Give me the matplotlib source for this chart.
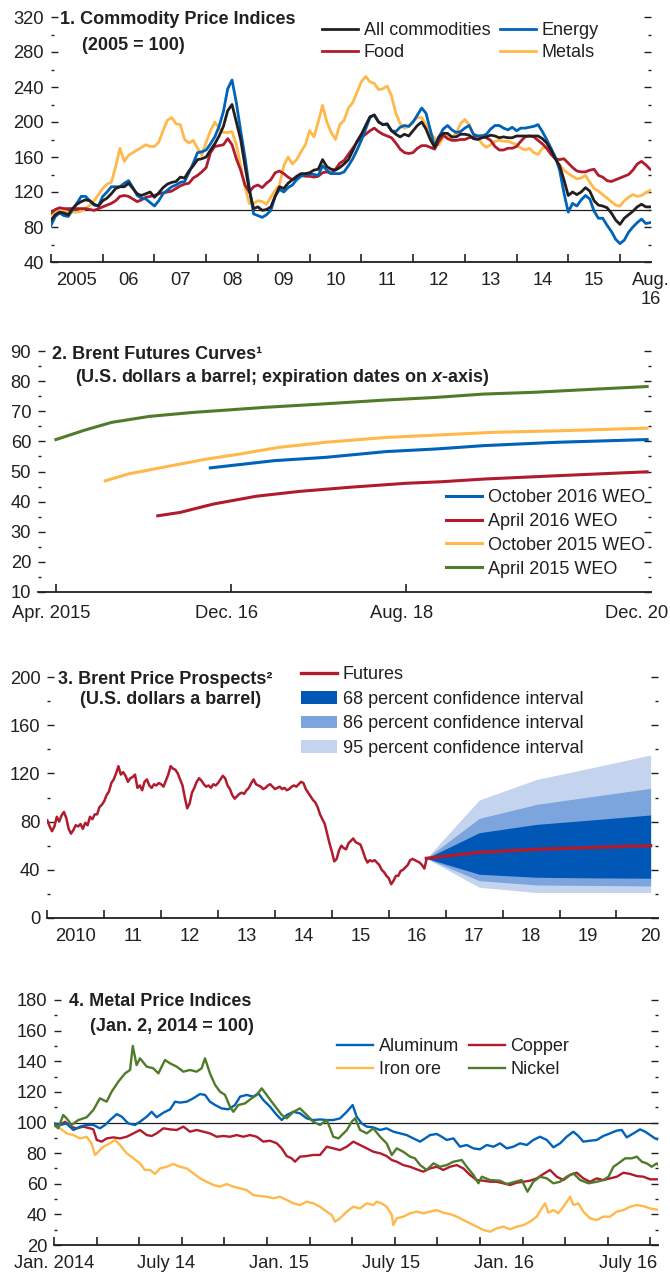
import matplotlib
matplotlib.use('Agg')
import matplotlib.pyplot as plt
import numpy as np

plt.rcParams['font.family'] = ['Liberation Sans', 'DejaVu Sans']
plt.rcParams['mathtext.fontset'] = 'custom'
plt.rcParams['mathtext.rm'] = 'Liberation Sans'
plt.rcParams['mathtext.it'] = 'Liberation Sans:bold:italic'
plt.rcParams['mathtext.bf'] = 'Liberation Sans:bold'

W, H = 670, 1275
fs = 13.2
fs_leg = 13.0
fs_title = 13.0
INK = '#231f20'
BLACK = '#231f20'
BLUE = '#0062b8'
RED = '#b01c2e'
GOLD = '#ffb84a'
GREEN = '#4f7b2a'
FAN68 = '#0057b5'
FAN86 = '#7ba5dc'
FAN95 = '#c4d4ef'

# ---------------- panel 1: monthly, Jan 2005 - Aug 2016 ----------------
all_commod = [
    88, 94, 97, 96, 94, 101, 106, 109, 111, 110, 106, 104,
    110, 113, 118, 124, 126, 126, 130, 124, 118, 116, 118, 120,
    114, 119, 125, 129, 131, 132, 137, 136, 144, 150, 157, 158,
    160, 168, 175, 184, 195, 213, 220, 200, 180, 150, 122, 101,
    103, 99, 100, 103, 115, 126, 124, 130, 134, 138, 141, 141,
    142, 145, 146, 157, 149, 146, 145, 148, 152, 157, 167, 178,
    186, 196, 206, 208, 200, 197, 198, 190, 186, 183, 186, 184,
    190, 196, 200, 192, 180, 171, 183, 187, 187, 183, 183, 186,
    186, 185, 181, 180, 182, 183, 185, 184, 182, 183, 182, 182,
    184, 184, 184, 184, 184, 184, 181, 176, 168, 158, 150, 134,
    116, 120, 117, 120, 125, 121, 110, 105, 104, 102, 96, 88,
    83, 90, 94, 98, 103, 106, 103, 103]
energy = [
    82, 92, 96, 93, 92, 100, 107, 115, 115, 110, 105, 104,
    115, 120, 126, 126, 126, 130, 133, 125, 116, 113, 112, 108,
    104, 110, 118, 122, 126, 128, 131, 132, 142, 153, 165, 166,
    168, 175, 183, 195, 212, 238, 248, 222, 190, 160, 125, 95,
    93, 91, 94, 99, 115, 123, 120, 125, 128, 134, 138, 140,
    141, 140, 139, 150, 145, 141, 141, 141, 143, 150, 158, 168,
    179, 192, 205, 208, 200, 197, 197, 190, 189, 194, 196, 195,
    200, 208, 216, 210, 191, 172, 183, 192, 196, 191, 188, 189,
    193, 196, 186, 184, 184, 186, 192, 196, 196, 193, 191, 194,
    190, 193, 193, 194, 195, 197, 189, 180, 170, 160, 145, 119,
    97, 107, 104, 111, 116, 112, 98, 90, 90, 82, 75, 66,
    61, 65, 74, 80, 85, 89, 84, 85]
food = [
    96, 100, 102, 101, 101, 101, 101, 101, 101, 100, 99, 101,
    103, 105, 107, 110, 115, 116, 115, 112, 109, 111, 114, 115,
    116, 118, 119, 120, 121, 124, 127, 129, 130, 136, 139, 143,
    148, 165, 172, 173, 174, 181, 174, 158, 145, 128, 120, 126,
    128, 125, 130, 134, 142, 144, 141, 137, 134, 135, 139, 138,
    138, 137, 138, 142, 143, 141, 146, 153, 156, 163, 170, 177,
    182, 186, 190, 193, 189, 186, 184, 182, 176, 169, 165, 164,
    165, 170, 173, 173, 171, 169, 178, 185, 181, 179, 179, 180,
    180, 182, 183, 184, 184, 182, 179, 172, 168, 168, 170, 170,
    172, 178, 183, 184, 183, 179, 175, 170, 163, 158, 157, 158,
    153, 148, 144, 143, 143, 145, 146, 139, 137, 133, 132, 134,
    136, 138, 140, 145, 152, 155, 151, 146]
metals = [
    94, 97, 99, 98, 97, 97, 97, 98, 101, 105, 110, 117,
    124, 129, 131, 149, 170, 155, 162, 165, 168, 171, 174, 172,
    172, 177, 190, 202, 205, 198, 197, 180, 176, 179, 170, 162,
    177, 190, 200, 193, 188, 188, 189, 174, 150, 126, 107, 107,
    110, 109, 106, 114, 122, 128, 150, 160, 152, 157, 166, 174,
    190, 183, 200, 219, 200, 188, 180, 197, 202, 216, 222, 234,
    246, 252, 246, 244, 237, 238, 241, 230, 210, 198, 193, 195,
    201, 205, 205, 197, 186, 182, 174, 183, 184, 182, 187, 198,
    203, 197, 186, 183, 175, 171, 174, 178, 179, 178, 178, 176,
    174, 170, 168, 170, 165, 163, 170, 171, 165, 158, 151, 145,
    141, 138, 135, 136, 139, 131, 124, 121, 117, 113, 109, 105,
    104, 110, 114, 117, 115, 116, 119, 122]
p1_year_labels = ['2005', '06', '07', '08', '09', '10', '11', '12', '13', '14', '15']

# ---------------- panel 2: futures curves (decimal years) ----------------
apr15_t = [2015.25, 2015.53, 2015.78, 2016.14, 2016.55, 2016.92, 2017.24, 2017.78,
           2018.38, 2018.87, 2019.32, 2019.81, 2020.42, 2020.88]
apr15_v = [60.6, 63.8, 66.3, 68.3, 69.6, 70.5, 71.3, 72.4, 73.7, 74.6, 75.7, 76.3, 77.4, 78.2]
oct15_t = [2015.72, 2015.94, 2016.27, 2016.68, 2017.0, 2017.37, 2017.82, 2018.39,
           2018.88, 2019.41, 2020.02, 2020.88]
oct15_v = [46.9, 49.2, 51.4, 54.1, 55.8, 58.0, 59.7, 61.3, 62.1, 63.0, 63.5, 64.4]
apr16_t = [2016.22, 2016.43, 2016.75, 2017.16, 2017.57, 2018.06, 2018.59, 2018.92,
           2019.33, 2020.02, 2020.88]
apr16_v = [35.3, 36.4, 39.2, 41.8, 43.4, 44.8, 46.1, 46.6, 47.5, 48.6, 49.9]
oct16_t = [2016.72, 2017.0, 2017.33, 2017.82, 2018.39, 2018.88, 2019.33, 2020.02, 2020.88]
oct16_v = [51.2, 52.3, 53.6, 54.7, 56.6, 57.5, 58.6, 59.7, 60.6]

# ---------------- panel 3: Brent, half-monthly from Jan 2010 ----------------
brent = [
    81, 76, 72, 76, 84, 80, 85, 88, 83, 74, 70, 73, 77, 76, 78, 74, 79, 77, 84, 82, 86, 86, 92, 94,
    97, 102, 105, 112, 115, 120, 126, 119, 121, 118, 113, 116, 117, 119, 108, 110, 106, 113, 115, 110, 108, 111, 110, 112,
    111, 109, 114, 119, 126, 124, 123, 120, 115, 110, 100, 91, 95, 104, 108, 113, 116, 114, 111, 109, 110, 108, 111, 110,
    112, 115, 118, 116, 110, 107, 102, 99, 101, 103, 104, 103, 106, 108, 112, 115, 111, 110, 109, 107, 108, 110, 111, 109,
    107, 108, 109, 107, 108, 106, 107, 109, 110, 109, 111, 113, 112, 107, 104, 101, 98, 96, 92, 86, 82, 78, 70, 62,
    55, 47, 49, 56, 60, 58, 57, 62, 64, 66, 63, 62, 61, 56, 50, 46, 48, 47, 48, 46, 44, 40, 38, 35,
    33, 28, 31, 35, 35, 39, 40, 42, 44, 48, 49, 48, 47, 46, 44, 41, 49.5]
fan_t = [2016.66, 2017.59, 2018.6, 2019.6, 2020.6]
futures = [49.5, 54.5, 57.0, 58.6, 60.0]
lo68 = [49.5, 36.3, 33.8, 33.3, 33.0]
hi68 = [49.5, 70.8, 77.7, 81.5, 85.5]
lo86 = [49.5, 31.0, 27.4, 27.0, 26.6]
hi86 = [49.5, 82.7, 94.3, 101.0, 107.6]
lo95 = [49.5, 25.5, 21.1, 21.1, 21.1]
hi95 = [49.5, 98.0, 115.0, 125.0, 135.3]
p3_year_labels = ['2010', '11', '12', '13', '14', '15', '16', '17', '18', '19']

# ---------------- panel 4: metal indices (decimal years) ----------------
nickel_t = [2014.000, 2014.019, 2014.041, 2014.056, 2014.078, 2014.108, 2014.145, 2014.175,
            2014.204, 2014.234, 2014.256, 2014.286, 2014.316, 2014.338, 2014.350, 2014.367,
            2014.382, 2014.412, 2014.441, 2014.464, 2014.493, 2014.516, 2014.545, 2014.575,
            2014.604, 2014.634, 2014.656, 2014.671, 2014.693, 2014.716, 2014.738, 2014.760,
            2014.782, 2014.797, 2014.819, 2014.849, 2014.878, 2014.901, 2014.923, 2014.945,
            2014.967, 2014.990, 2015.012, 2015.034, 2015.064, 2015.093, 2015.123, 2015.152,
            2015.182, 2015.212, 2015.227, 2015.241, 2015.264, 2015.301, 2015.323, 2015.338,
            2015.360, 2015.390, 2015.419, 2015.449, 2015.478, 2015.501, 2015.523, 2015.552,
            2015.582, 2015.604, 2015.627, 2015.656, 2015.686, 2015.715, 2015.745, 2015.775,
            2015.812, 2015.834, 2015.864, 2015.886, 2015.901, 2015.938, 2015.982, 2016.012,
            2016.049, 2016.078, 2016.104, 2016.130, 2016.160, 2016.190, 2016.219, 2016.249,
            2016.278, 2016.308, 2016.338, 2016.375, 2016.412, 2016.441, 2016.464, 2016.486,
            2016.508, 2016.538, 2016.567, 2016.590, 2016.612, 2016.634, 2016.656, 2016.678,
            2016.690]
nickel_v = [98.4, 96.2, 104.9, 102.7, 98.4, 101.6, 103.4, 108.2,
            115.8, 113.6, 120.1, 126.7, 132.1, 134.3, 150.0, 137.5,
            141.9, 136.5, 135.4, 132.1, 140.8, 138.6, 136.5, 133.2,
            134.3, 133.2, 135.4, 141.9, 132.1, 124.5, 120.1, 118.0,
            110.3, 107.0, 111.4, 112.5, 115.8, 118.0, 122.3, 118.0,
            113.6, 109.2, 104.9, 102.7, 107.0, 109.2, 104.9, 100.5,
            98.4, 101.6, 96.2, 90.7, 89.6, 95.0, 100.5, 102.7,
            95.1, 92.9, 96.2, 90.7, 86.4, 78.8, 83.1, 80.9,
            77.7, 76.6, 72.2, 69.0, 73.3, 71.1, 72.2, 74.4,
            75.5, 71.1, 65.7, 60.3, 64.6, 62.4, 62.0, 59.8,
            61.3, 62.4, 54.8, 61.3, 64.6, 63.5, 60.3, 61.3,
            64.6, 66.8, 62.4, 60.3, 61.3, 62.4, 64.6, 71.1,
            73.3, 76.6, 76.6, 77.7, 74.4, 73.3, 71.1, 73.3,
            71.6]
alum_t = [2014.000, 2014.027, 2014.056, 2014.086, 2014.116, 2014.145, 2014.175, 2014.204,
          2014.227, 2014.249, 2014.279, 2014.301, 2014.330, 2014.360, 2014.382, 2014.412,
          2014.434, 2014.456, 2014.486, 2014.516, 2014.538, 2014.560, 2014.590, 2014.619,
          2014.649, 2014.671, 2014.693, 2014.716, 2014.745, 2014.775, 2014.804, 2014.827,
          2014.856, 2014.886, 2014.908, 2014.930, 2014.960, 2014.990, 2015.012, 2015.034,
          2015.064, 2015.093, 2015.123, 2015.152, 2015.182, 2015.212, 2015.241, 2015.271,
          2015.301, 2015.327, 2015.345, 2015.367, 2015.390, 2015.419, 2015.449, 2015.478,
          2015.508, 2015.538, 2015.567, 2015.597, 2015.627, 2015.649, 2015.671, 2015.701,
          2015.723, 2015.745, 2015.775, 2015.804, 2015.834, 2015.864, 2015.893, 2015.923,
          2015.953, 2015.982, 2016.012, 2016.041, 2016.071, 2016.101, 2016.130, 2016.160,
          2016.190, 2016.219, 2016.249, 2016.278, 2016.308, 2016.330, 2016.352, 2016.382,
          2016.412, 2016.441, 2016.471, 2016.501, 2016.523, 2016.545, 2016.575, 2016.604,
          2016.627, 2016.649, 2016.671, 2016.690]
alum_v = [99.4, 98.4, 99.4, 95.1, 97.3, 98.4, 98.4, 96.2,
          98.4, 101.6, 105.5, 103.8, 99.4, 98.4, 100.5, 103.8,
          107.0, 103.4, 106.4, 108.6, 113.6, 113.0, 113.6, 115.8,
          118.6, 118.0, 113.6, 111.4, 109.2, 108.6, 111.4, 116.9,
          118.0, 116.9, 119.1, 114.7, 110.3, 104.9, 101.6, 104.9,
          107.0, 106.0, 102.7, 101.6, 102.0, 101.6, 101.6, 102.7,
          107.0, 111.4, 103.8, 99.4, 97.3, 96.8, 95.1, 96.2,
          94.0, 92.9, 91.8, 89.6, 87.5, 89.6, 91.8, 92.5,
          90.7, 88.6, 89.6, 84.2, 85.3, 83.1, 82.5, 85.3,
          84.2, 86.4, 83.1, 84.2, 86.4, 85.3, 88.6, 90.7,
          88.6, 83.8, 86.4, 90.7, 94.0, 91.2, 87.5, 88.1,
          88.6, 91.2, 92.9, 94.7, 95.1, 90.3, 92.9, 95.5,
          94.0, 91.8, 89.6, 88.6]
copper_t = [2014.000, 2014.027, 2014.049, 2014.071, 2014.101, 2014.130, 2014.160, 2014.175,
            2014.190, 2014.212, 2014.234, 2014.264, 2014.293, 2014.323, 2014.353, 2014.382,
            2014.412, 2014.434, 2014.456, 2014.486, 2014.516, 2014.545, 2014.575, 2014.604,
            2014.634, 2014.664, 2014.693, 2014.723, 2014.753, 2014.782, 2014.812, 2014.841,
            2014.871, 2014.901, 2014.930, 2014.960, 2014.990, 2015.012, 2015.034, 2015.056,
            2015.071, 2015.093, 2015.123, 2015.152, 2015.182, 2015.212, 2015.241, 2015.271,
            2015.301, 2015.330, 2015.360, 2015.390, 2015.419, 2015.449, 2015.478, 2015.501,
            2015.523, 2015.552, 2015.582, 2015.612, 2015.641, 2015.671, 2015.701, 2015.730,
            2015.760, 2015.790, 2015.819, 2015.849, 2015.878, 2015.908, 2015.938, 2015.967,
            2015.997, 2016.027, 2016.056, 2016.086, 2016.115, 2016.145, 2016.175, 2016.204,
            2016.234, 2016.264, 2016.293, 2016.323, 2016.352, 2016.382, 2016.412, 2016.441,
            2016.471, 2016.501, 2016.530, 2016.560, 2016.590, 2016.619, 2016.649, 2016.690]
copper_v = [99.0, 98.4, 100.5, 97.3, 96.2, 97.3, 96.2, 95.5,
            88.6, 87.5, 89.6, 90.3, 89.6, 90.7, 92.9, 95.1,
            91.8, 91.2, 92.9, 96.2, 95.5, 95.1, 97.3, 94.0,
            95.1, 94.0, 92.9, 90.7, 91.2, 90.7, 91.8, 90.7,
            91.8, 90.7, 87.5, 88.1, 86.4, 83.1, 78.1, 76.6,
            74.4, 77.7, 78.1, 78.8, 78.8, 84.2, 83.1, 82.0,
            84.2, 87.5, 85.3, 83.1, 80.9, 79.9, 78.1, 75.5,
            74.4, 72.2, 71.1, 69.4, 67.9, 70.0, 71.1, 69.0,
            71.1, 72.2, 70.0, 65.7, 62.4, 62.0, 61.3, 61.3,
            60.3, 59.2, 60.7, 61.3, 62.0, 63.5, 66.4, 69.0,
            64.6, 62.4, 65.7, 67.2, 63.5, 61.3, 63.5, 62.4,
            63.5, 64.6, 67.2, 66.4, 65.0, 64.6, 62.9, 62.9]
iron_t = [2014.000, 2014.027, 2014.056, 2014.086, 2014.116, 2014.145, 2014.167, 2014.182,
          2014.197, 2014.219, 2014.249, 2014.271, 2014.293, 2014.323, 2014.353, 2014.382,
          2014.404, 2014.427, 2014.449, 2014.471, 2014.501, 2014.530, 2014.560, 2014.590,
          2014.619, 2014.649, 2014.678, 2014.708, 2014.738, 2014.767, 2014.797, 2014.827,
          2014.856, 2014.886, 2014.916, 2014.945, 2014.975, 2015.004, 2015.034, 2015.064,
          2015.093, 2015.123, 2015.152, 2015.182, 2015.212, 2015.234, 2015.249, 2015.271,
          2015.301, 2015.330, 2015.360, 2015.390, 2015.419, 2015.434, 2015.456, 2015.478,
          2015.501, 2015.508, 2015.523, 2015.552, 2015.582, 2015.612, 2015.641, 2015.671,
          2015.701, 2015.730, 2015.760, 2015.790, 2015.819, 2015.849, 2015.878, 2015.908,
          2015.938, 2015.967, 2015.997, 2016.027, 2016.056, 2016.086, 2016.115, 2016.145,
          2016.167, 2016.182, 2016.197, 2016.219, 2016.241, 2016.264, 2016.293, 2016.308,
          2016.330, 2016.352, 2016.382, 2016.412, 2016.441, 2016.471, 2016.501, 2016.530,
          2016.560, 2016.590, 2016.619, 2016.649, 2016.690]
iron_v = [99.4, 96.2, 92.9, 91.8, 89.6, 90.7, 86.4, 78.8,
          80.9, 84.2, 86.4, 88.6, 85.3, 79.9, 76.6, 73.3,
          69.0, 69.0, 66.4, 70.0, 71.1, 72.9, 71.1, 70.0,
          66.8, 63.5, 61.3, 59.2, 58.1, 59.8, 58.1, 57.0,
          55.9, 52.6, 52.0, 51.5, 50.5, 51.5, 49.4, 47.2,
          46.1, 48.3, 47.2, 45.0, 41.8, 39.6, 35.2, 37.4,
          41.8, 45.0, 43.9, 47.2, 46.1, 48.3, 47.2, 45.0,
          39.6, 33.0, 37.4, 38.5, 40.7, 41.8, 40.7, 41.8,
          42.8, 41.1, 40.2, 38.5, 36.3, 34.1, 32.0, 29.8,
          28.7, 30.9, 32.0, 30.2, 32.0, 33.0, 35.2, 38.5,
          43.9, 47.2, 41.1, 42.8, 40.7, 45.0, 51.5, 46.1,
          47.2, 41.8, 37.4, 36.3, 38.5, 38.5, 41.8, 42.8,
          45.0, 46.1, 45.4, 43.9, 42.8]
p4_label_pos = [2014.0, 2014.5, 2015.0, 2015.5, 2016.0, 2016.55]
p4_labels = ['Jan. 2014', 'July 14', 'Jan. 15', 'July 15', 'Jan. 16', 'July 16']


fig = plt.figure(figsize=(W / 100, H / 100), dpi=100)


def px_axes(x0, x1, y_top, y_bot):
    return fig.add_axes([x0 / W, 1 - y_bot / H, (x1 - x0) / W, (y_bot - y_top) / H])


def style(ax, ymaj, ymin, xpad=7):
    for s in ('left', 'right', 'top'):
        ax.spines[s].set_visible(False)
    ax.spines['bottom'].set_linewidth(1.3)
    ax.spines['bottom'].set_color(INK)
    ax.yaxis.set_ticks_position('both')
    ax.xaxis.set_ticks_position('bottom')
    ax.xaxis.remove_overlapping_locs = False
    ax.set_yticks(ymaj)
    ax.set_yticks(ymin, minor=True)
    ax.tick_params(axis='y', which='major', direction='in', length=5, width=1,
                   pad=5, labelsize=fs, colors=INK, labelright=False)
    ax.tick_params(axis='y', which='minor', direction='in', length=2.5, width=1, colors=INK)
    ax.tick_params(axis='x', which='major', direction='in', length=6, width=1.2,
                   colors=INK, labelbottom=False)
    ax.tick_params(axis='x', which='minor', length=0, pad=xpad, labelsize=fs, colors=INK)
    ax.patch.set_alpha(0)


def xlabels(ax, pos, labels):
    ax.set_xticks(pos, minor=True)
    ax.set_xticklabels(labels, minor=True)


def title(x, y, s, y2=None, x2=None, s2=None):
    fig.text(x / W, 1 - y / H, s, fontsize=fs_title, fontweight='bold', color=INK, va='baseline')
    if s2:
        fig.text(x2 / W, 1 - y2 / H, s2, fontsize=fs_title, fontweight='bold', color=INK,
                 va='baseline')


def legend(ax, handles, labels, x, y, ncol=1, spacing=0.2):
    ax.legend(handles, labels, loc='upper left', bbox_to_anchor=(x / W, 1 - y / H),
              bbox_transform=fig.transFigure, frameon=False, ncol=ncol, borderpad=0,
              borderaxespad=0, handlelength=2.0, handletextpad=0.3, columnspacing=0.55,
              labelspacing=spacing, fontsize=fs_leg, labelcolor=INK)


# ---- Panel 1
ax1 = px_axes(51, 651, 17, 262)
t1 = 2005 + np.arange(len(all_commod)) / 12
ax1.axhline(100, color=BLACK, lw=0.9, zorder=1)
l_met, = ax1.plot(t1, metals, color=GOLD, lw=2)
l_food, = ax1.plot(t1, food, color=RED, lw=2)
l_en, = ax1.plot(t1, energy, color=BLUE, lw=2)
l_all, = ax1.plot(t1, all_commod, color=BLACK, lw=2)
ax1.set_xlim(2005, 2016.6)
ax1.set_ylim(40, 320)
style(ax1, np.arange(40, 321, 40), np.arange(60, 320, 40))
ax1.set_xticks(np.arange(2005, 2017))
xlabels(ax1, list(np.arange(2005.5, 2016, 1.0)) + [2016.6], p1_year_labels + ['Aug.\n16'])
for lab in ax1.get_xticklabels(minor=True):
    lab.set_multialignment('center')
title(60, 23.5, '1. Commodity Price Indices', 49.5, 82, '(2005 = 100)')
legend(ax1, [l_all, l_food, l_en, l_met], ['All commodities', 'Food', 'Energy', 'Metals'],
       322, 22, ncol=2, spacing=0.3)

# ---- Panel 2
ax2 = px_axes(38, 651, 351, 592)
l_o16, = ax2.plot(oct16_t, oct16_v, color=BLUE, lw=2.2)
l_a16, = ax2.plot(apr16_t, apr16_v, color=RED, lw=2.2)
l_o15, = ax2.plot(oct15_t, oct15_v, color=GOLD, lw=2.2)
l_a15, = ax2.plot(apr15_t, apr15_v, color=GREEN, lw=2.2)
ax2.set_xlim(2015.079, 2020.917)
ax2.set_ylim(10, 90)
style(ax2, np.arange(10, 91, 10), np.arange(15, 90, 10), xpad=9)
ax2.set_xticks([2015.25, 2016.917, 2018.583])
xlabels(ax2, [2015.2, 2016.87, 2018.54, 2020.78], ['Apr. 2015', 'Dec. 16', 'Aug. 18', 'Dec. 20'])
title(52, 358.5, '2. Brent Futures Curves\u00b9', 382.5, 75,
      '(U.S. dollars a barrel; expiration dates on $x$-axis)')
legend(ax2, [l_o16, l_a16, l_o15, l_a15],
       ['October 2016 WEO', 'April 2016 WEO', 'October 2015 WEO', 'April 2015 WEO'],
       446, 489, spacing=0.38)

# ---- Panel 3
ax3 = px_axes(47.3, 658, 677, 918)
t3 = 2010 + np.arange(len(brent)) / 24
f95 = ax3.fill_between(fan_t, lo95, hi95, color=FAN95, lw=0)
f86 = ax3.fill_between(fan_t, lo86, hi86, color=FAN86, lw=0)
f68 = ax3.fill_between(fan_t, lo68, hi68, color=FAN68, lw=0)
ax3.plot(t3, brent, color=RED, lw=1.8)
l_fut, = ax3.plot(fan_t, futures, color=RED, lw=2.4)
ax3.set_xlim(2010, 2020.73)
ax3.set_ylim(0, 200)
style(ax3, np.arange(0, 201, 40), np.arange(20, 200, 40))
ax3.set_xticks(np.arange(2010, 2021))
xlabels(ax3, list(np.arange(2010.5, 2020, 1.0)) + [2020.6], p3_year_labels + ['20'])
title(58, 683.5, '3. Brent Price Prospects\u00b2', 704.5, 80, '(U.S. dollars a barrel)')
legend(ax3, [l_fut, f68, f86, f95],
       ['Futures', '68 percent confidence interval', '86 percent confidence interval',
        '95 percent confidence interval'], 301, 666, spacing=0.42)

# ---- Panel 4
ax4 = px_axes(54, 658, 1000, 1245)
ax4.axhline(100, color=BLACK, lw=0.9, zorder=1)
l_iron, = ax4.plot(iron_t, iron_v, color=GOLD, lw=1.7)
l_cu, = ax4.plot(copper_t, copper_v, color=RED, lw=1.7)
l_al, = ax4.plot(alum_t, alum_v, color=BLUE, lw=1.7)
l_ni, = ax4.plot(nickel_t, nickel_v, color=GREEN, lw=1.7)
ax4.set_xlim(2014, 2016.684)
ax4.set_ylim(20, 180)
style(ax4, np.arange(20, 181, 20), np.arange(30, 180, 20))
ax4.set_xticks(2014 + 0.1893 * np.arange(15))
xlabels(ax4, p4_label_pos, p4_labels)
title(69, 1006.5, '4. Metal Price Indices', 1031, 90, '(Jan. 2, 2014 = 100)')
legend(ax4, [l_al, l_iron, l_cu, l_ni], ['Aluminum', 'Iron ore', 'Copper', 'Nickel'],
       337, 1038, ncol=2, spacing=0.35)

fig.savefig('out.png', dpi=100)
